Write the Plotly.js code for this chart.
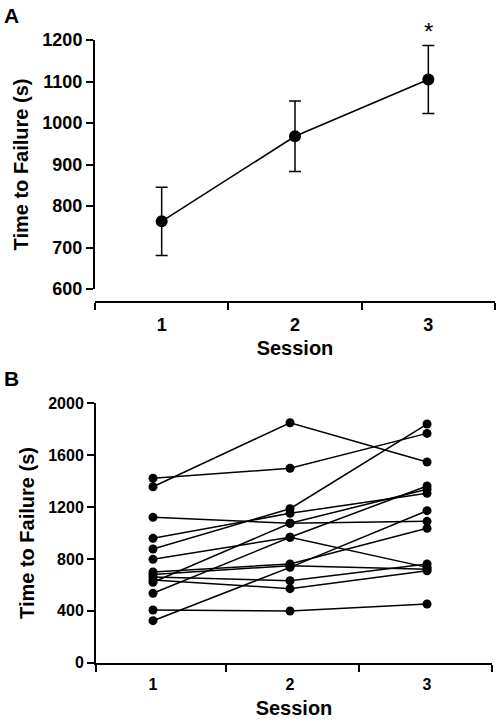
<!DOCTYPE html>
<html>
<head>
<meta charset="utf-8">
<script src="https://cdn.plot.ly/plotly-3.0.1.min.js"></script>
<style>
  html, body { margin: 0; padding: 0; background: #fff; }
  #chart { width: 496px; height: 724px; }
</style>
</head>
<body>
<div id="chart"></div>
<script>
// ---------- data ----------
const sessions = [1, 2, 3];
const sessionLabels = ['1', '2', '3'];

// Panel A: group mean and error
const meanTTF = [763, 968, 1105];
const errTTF = [82, 85, 82];

// Panel B: individual subjects (time to failure, s) for sessions 1, 2, 3
const s01 = [1422, 1499, 1768];
const s02 = [1357, 1850, 1547];
const s03 = [1121, 1075, 1090];
const s04 = [959, 1152, 1306];
const s05 = [877, 1187, 1840];
const s06 = [797, 967, 735];
const s07 = [620, 1075, 1337];
const s08 = [535, 967, 1362];
const s09 = [406, 399, 453];
const s10 = [324, 735, 1172];
const s11 = [699, 761, 1036];
const s12 = [680, 748, 720];
const s13 = [660, 632, 761];
const s14 = [638, 571, 709];
const subjects = [s01, s02, s03, s04, s05, s06, s07, s08, s09, s10, s11, s12, s13, s14];

const yTicksA = [600, 700, 800, 900, 1000, 1100, 1200];
const yTicksB = [0, 400, 800, 1200, 1600, 2000];

// ---------- layout helpers ----------
const W = 496, H = 724;
const px = v => v / W;
const py = v => 1 - v / H;
const FONT = 'Liberation Sans, Arial, Helvetica, sans-serif';
const tickFontA = {family: FONT, size: 18, color: '#000', weight: 'bold'};
const tickFontB = {family: FONT, size: 16, color: '#000', weight: 'bold'};
const titleFont = {family: FONT, size: 20, color: '#000', weight: 'bold'};

const traces = [];
traces.push({
  x: sessions, y: meanTTF, xaxis: 'x', yaxis: 'y',
  type: 'scatter', mode: 'lines+markers',
  line: {color: '#000', width: 1.6},
  marker: {color: '#000', size: 12},
  error_y: {type: 'data', array: errTTF, visible: true, color: '#000', thickness: 1.5, width: 6},
  showlegend: false, hoverinfo: 'skip', cliponaxis: false
});
subjects.forEach(s => {
  traces.push({
    x: sessions, y: s, xaxis: 'x2', yaxis: 'y2',
    type: 'scatter', mode: 'lines+markers',
    line: {color: '#000', width: 1.5},
    marker: {color: '#000', size: 9},
    showlegend: false, hoverinfo: 'skip', cliponaxis: false
  });
});

const layout = {
  width: W, height: H,
  margin: {l: 0, r: 0, t: 0, b: 0},
  paper_bgcolor: '#fff', plot_bgcolor: '#fff',
  showlegend: false,
  xaxis: {
    domain: [px(95), px(495)], anchor: 'free', position: py(302),
    range: [0.5, 3.5], tickmode: 'array', tickvals: sessions, ticktext: sessionLabels,
    ticks: 'outside', ticklen: 6, tickcolor: 'rgba(0,0,0,0)',
    minor: {tickmode: 'array', tickvals: [0.5, 1.5, 2.5, 3.5], ticks: 'outside', ticklen: 7, tickwidth: 2, tickcolor: '#000'},
    showline: true, linecolor: '#000', linewidth: 2, showgrid: false, zeroline: false,
    tickfont: tickFontA, automargin: false,
    title: {text: 'Session', font: titleFont, standoff: 6}
  },
  yaxis: {
    domain: [py(289), py(40)], anchor: 'x',
    range: [600, 1200], tickmode: 'array', tickvals: yTicksA,
    ticks: 'outside', ticklen: 7, tickwidth: 2, tickcolor: '#000',
    showline: true, linecolor: '#000', linewidth: 2, showgrid: false, zeroline: false,
    tickfont: tickFontA, automargin: false,
    title: {text: 'Time to Failure (s)', font: titleFont, standoff: 8}
  },
  xaxis2: {
    domain: [px(96), px(492)], anchor: 'y2',
    range: [0.584, 3.474], tickmode: 'array', tickvals: sessions, ticktext: sessionLabels,
    ticks: 'outside', ticklen: 6, tickcolor: 'rgba(0,0,0,0)',
    minor: {tickmode: 'array', tickvals: [0.584, 1.533, 2.504, 3.474], ticks: 'outside', ticklen: 7, tickwidth: 2, tickcolor: '#000'},
    showline: true, linecolor: '#000', linewidth: 2, showgrid: false, zeroline: false,
    tickfont: tickFontB, automargin: false,
    title: {text: 'Session', font: titleFont, standoff: 9}
  },
  yaxis2: {
    domain: [py(662.7), py(403.3)], anchor: 'x2',
    range: [0, 2000], tickmode: 'array', tickvals: yTicksB,
    ticks: 'outside', ticklen: 7, tickwidth: 2, tickcolor: '#000',
    showline: true, linecolor: '#000', linewidth: 2, showgrid: false, zeroline: false,
    tickfont: tickFontB, automargin: false,
    title: {text: 'Time to Failure (s)', font: titleFont, standoff: 8}
  },
  annotations: [
    {text: 'A', xref: 'paper', yref: 'paper', x: px(2), y: py(2), xanchor: 'left', yanchor: 'top',
     showarrow: false, font: {family: FONT, size: 21, color: '#000', weight: 'bold'}},
    {text: 'B', xref: 'paper', yref: 'paper', x: px(2), y: py(365), xanchor: 'left', yanchor: 'top',
     showarrow: false, font: {family: FONT, size: 21, color: '#000', weight: 'bold'}},
    {text: '*', xref: 'x', yref: 'paper', x: 3, y: py(31), xanchor: 'center', yanchor: 'middle',
     showarrow: false, font: {family: FONT, size: 24, color: '#000'}}
  ]
};

Plotly.newPlot('chart', traces, layout, {staticPlot: true, displayModeBar: false});
</script>
</body>
</html>
